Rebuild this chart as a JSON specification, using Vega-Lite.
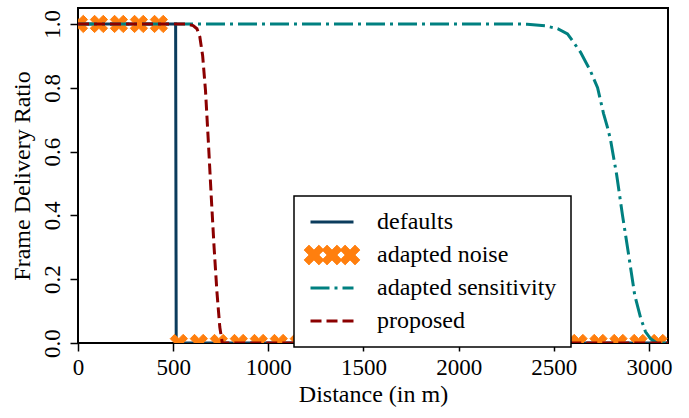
{
  "$schema": "https://vega.github.io/schema/vega-lite/v6.json",
  "width": 590,
  "height": 335,
  "autosize": "none",
  "padding": {"left": 78, "top": 8, "right": 21, "bottom": 75},
  "background": "white",
  "config": {
    "view": {"stroke": "black", "strokeWidth": 2},
    "font": "Liberation Serif",
    "legend": {"rowPadding": 9},
    "axis": {
      "labelFont": "Liberation Serif",
      "titleFont": "Liberation Serif",
      "labelFontSize": 23,
      "titleFontSize": 24,
      "titleFontWeight": "normal",
      "labelColor": "black",
      "titleColor": "black",
      "grid": false,
      "domain": false,
      "tickColor": "black",
      "tickWidth": 1.5,
      "tickSize": 8
    }
  },
  "data": {
    "values": [
      {"series": "defaults", "distance": 0, "ratio": 1},
      {"series": "defaults", "distance": 513, "ratio": 1},
      {"series": "defaults", "distance": 516, "ratio": 0},
      {"series": "defaults", "distance": 3100, "ratio": 0},
      {"series": "adapted noise", "distance": 5, "ratio": 1},
      {"series": "adapted noise", "distance": 110, "ratio": 1},
      {"series": "adapted noise", "distance": 215, "ratio": 1},
      {"series": "adapted noise", "distance": 320, "ratio": 1},
      {"series": "adapted noise", "distance": 425, "ratio": 1},
      {"series": "adapted noise", "distance": 530, "ratio": 0},
      {"series": "adapted noise", "distance": 635, "ratio": 0},
      {"series": "adapted noise", "distance": 740, "ratio": 0},
      {"series": "adapted noise", "distance": 845, "ratio": 0},
      {"series": "adapted noise", "distance": 950, "ratio": 0},
      {"series": "adapted noise", "distance": 1055, "ratio": 0},
      {"series": "adapted noise", "distance": 1160, "ratio": 0},
      {"series": "adapted noise", "distance": 1265, "ratio": 0},
      {"series": "adapted noise", "distance": 1370, "ratio": 0},
      {"series": "adapted noise", "distance": 1475, "ratio": 0},
      {"series": "adapted noise", "distance": 1580, "ratio": 0},
      {"series": "adapted noise", "distance": 1685, "ratio": 0},
      {"series": "adapted noise", "distance": 1790, "ratio": 0},
      {"series": "adapted noise", "distance": 1895, "ratio": 0},
      {"series": "adapted noise", "distance": 2000, "ratio": 0},
      {"series": "adapted noise", "distance": 2105, "ratio": 0},
      {"series": "adapted noise", "distance": 2210, "ratio": 0},
      {"series": "adapted noise", "distance": 2315, "ratio": 0},
      {"series": "adapted noise", "distance": 2420, "ratio": 0},
      {"series": "adapted noise", "distance": 2525, "ratio": 0},
      {"series": "adapted noise", "distance": 2630, "ratio": 0},
      {"series": "adapted noise", "distance": 2735, "ratio": 0},
      {"series": "adapted noise", "distance": 2840, "ratio": 0},
      {"series": "adapted noise", "distance": 2945, "ratio": 0},
      {"series": "adapted noise", "distance": 3050, "ratio": 0},
      {"series": "adapted sensitivity", "distance": 0, "ratio": 1},
      {"series": "adapted sensitivity", "distance": 2300, "ratio": 1},
      {"series": "adapted sensitivity", "distance": 2360, "ratio": 0.999},
      {"series": "adapted sensitivity", "distance": 2456, "ratio": 0.994},
      {"series": "adapted sensitivity", "distance": 2520, "ratio": 0.985},
      {"series": "adapted sensitivity", "distance": 2572, "ratio": 0.969},
      {"series": "adapted sensitivity", "distance": 2603, "ratio": 0.943},
      {"series": "adapted sensitivity", "distance": 2640, "ratio": 0.912},
      {"series": "adapted sensitivity", "distance": 2693, "ratio": 0.852},
      {"series": "adapted sensitivity", "distance": 2730, "ratio": 0.8},
      {"series": "adapted sensitivity", "distance": 2761, "ratio": 0.72},
      {"series": "adapted sensitivity", "distance": 2782, "ratio": 0.676},
      {"series": "adapted sensitivity", "distance": 2798, "ratio": 0.637},
      {"series": "adapted sensitivity", "distance": 2830, "ratio": 0.528},
      {"series": "adapted sensitivity", "distance": 2861, "ratio": 0.4},
      {"series": "adapted sensitivity", "distance": 2893, "ratio": 0.277},
      {"series": "adapted sensitivity", "distance": 2925, "ratio": 0.151},
      {"series": "adapted sensitivity", "distance": 2956, "ratio": 0.079},
      {"series": "adapted sensitivity", "distance": 2982, "ratio": 0.035},
      {"series": "adapted sensitivity", "distance": 3009, "ratio": 0.013},
      {"series": "adapted sensitivity", "distance": 3040, "ratio": 0},
      {"series": "adapted sensitivity", "distance": 3100, "ratio": 0},
      {"series": "proposed", "distance": 0, "ratio": 1},
      {"series": "proposed", "distance": 565, "ratio": 1},
      {"series": "proposed", "distance": 605, "ratio": 0.995},
      {"series": "proposed", "distance": 625, "ratio": 0.985},
      {"series": "proposed", "distance": 640, "ratio": 0.96},
      {"series": "proposed", "distance": 655, "ratio": 0.9},
      {"series": "proposed", "distance": 670, "ratio": 0.79},
      {"series": "proposed", "distance": 685, "ratio": 0.63},
      {"series": "proposed", "distance": 700, "ratio": 0.46},
      {"series": "proposed", "distance": 715, "ratio": 0.3},
      {"series": "proposed", "distance": 730, "ratio": 0.16},
      {"series": "proposed", "distance": 745, "ratio": 0.05},
      {"series": "proposed", "distance": 758, "ratio": 0},
      {"series": "proposed", "distance": 3100, "ratio": 0}
    ]
  },
  "encoding": {
    "x": {
      "field": "distance", "type": "quantitative",
      "scale": {"domain": [0, 3100], "nice": false, "zero": false},
      "axis": {"title": "Distance (in m)", "values": [0, 500, 1000, 1500, 2000, 2500, 3000], "format": "d", "labelPadding": 5, "titlePadding": 3, "labelFlush": false}
    },
    "y": {
      "field": "ratio", "type": "quantitative",
      "scale": {"domain": [0, 1.05], "nice": false},
      "axis": {"title": "Frame Delivery Ratio", "values": [0, 0.2, 0.4, 0.6, 0.8, 1.0], "format": ".1f", "labelAngle": 270, "labelPadding": 6, "titlePadding": 7}
    },
    "color": {
      "field": "series", "type": "nominal",
      "scale": {"domain": ["defaults", "adapted noise", "adapted sensitivity", "proposed"], "range": ["#0b3c5d", "#ff7f0e", "#008080", "#8b0000"]},
      "legend": {
        "title": null,
        "orient": "none",
        "legendX": 216,
        "legendY": 188,
        "fillColor": "white",
        "strokeColor": "black",
        "cornerRadius": 0,
        "padding": 14,
        "labelFont": "Liberation Serif",
        "labelFontSize": 24,
        "labelColor": "black",
        "labelLimit": 0,
        "labelOffset": 33,
        "symbolOffset": 12,
        "symbolSize": 1849,
        "symbolType": "stroke",
        "rowPadding": 9,
        "zindex": 5,
        "encode": {
          "legend": {"update": {"strokeWidth": {"value": 1.5}}},
          "symbols": {
            "update": {
              "shape": {"signal": "datum.value === 'adapted noise' ? 'M-0.61,-0.46L-0.84,-0.23L-1.07,-0.46L-1.3,-0.23L-1.07,0L-1.3,0.23L-1.07,0.46L-0.84,0.23L-0.61,0.46L-0.38,0.23L-0.61,0L-0.38,-0.23ZM0.23,-0.46L0,-0.23L-0.23,-0.46L-0.46,-0.23L-0.23,0L-0.46,0.23L-0.23,0.46L0,0.23L0.23,0.46L0.46,0.23L0.23,0L0.46,-0.23ZM1.07,-0.46L0.84,-0.23L0.61,-0.46L0.38,-0.23L0.61,0L0.38,0.23L0.61,0.46L0.84,0.23L1.07,0.46L1.3,0.23L1.07,0L1.3,-0.23Z' : 'stroke'"},
              "fill": {"signal": "datum.value === 'adapted noise' ? '#ff7f0e' : 'transparent'"},
              "stroke": {"signal": "datum.value === 'defaults' ? '#0b3c5d' : datum.value === 'adapted noise' ? '#ff7f0e' : datum.value === 'adapted sensitivity' ? '#008080' : '#8b0000'"},
              "strokeWidth": {"signal": "datum.value === 'adapted noise' ? 1 : 3"},
              "strokeDash": {"signal": "datum.value === 'adapted sensitivity' ? [19, 5, 3, 5] : datum.value === 'proposed' ? [11, 5] : [1, 0]"},
              "opacity": {"value": 1}
            }
          }
        }
      }
    }
  },
  "layer": [
    {
      "transform": [{"filter": "datum.series === 'defaults'"}],
      "mark": {"type": "line", "strokeWidth": 3, "clip": true, "strokeCap": "butt"}
    },
    {
      "transform": [{"filter": "datum.series === 'adapted noise'"}],
      "mark": {"type": "point", "shape": "M0.5,-1L0,-0.5L-0.5,-1L-1,-0.5L-0.5,0L-1,0.5L-0.5,1L0,0.5L0.5,1L1,0.5L0.5,0L1,-0.5Z", "filled": true, "size": 300, "opacity": 1, "stroke": "#ff7f0e", "strokeWidth": 1, "clip": true}
    },
    {
      "transform": [{"filter": "datum.series === 'adapted sensitivity'"}],
      "mark": {"type": "line", "strokeWidth": 3, "strokeDash": [19, 5, 3, 5], "clip": true, "strokeCap": "butt"}
    },
    {
      "transform": [{"filter": "datum.series === 'proposed'"}],
      "mark": {"type": "line", "strokeWidth": 3, "strokeDash": [11, 5], "clip": true, "strokeCap": "butt"}
    }
  ]
}
